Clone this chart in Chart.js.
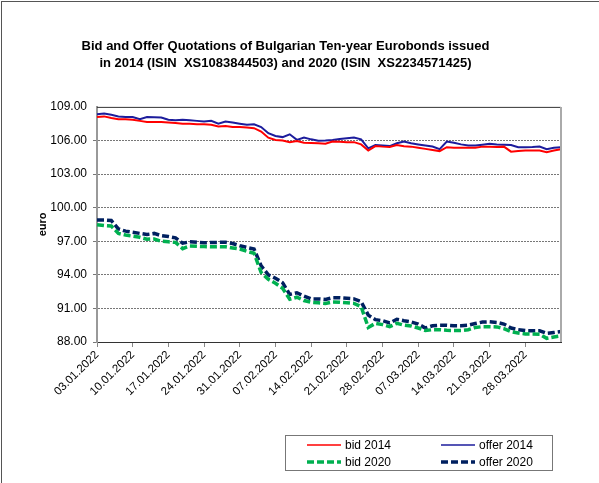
<!DOCTYPE html>
<html>
<head>
<meta charset="utf-8">
<script src="https://cdn.jsdelivr.net/npm/chart.js@4/dist/chart.umd.min.js"></script>
<style>
html, body { margin:0; padding:0; background:#fff; }
#wrap { position:relative; width:599px; height:483px; overflow:hidden; }
#frame { position:absolute; left:1px; top:1px; right:-2px; bottom:-2px; border-left:1px solid #555; border-top:1px solid #555; pointer-events:none; }
#legend { position:absolute; left:285px; top:435px; width:266px; height:34px; border:1px solid #777;
	display:grid; grid-template-columns:134px 132px; grid-template-rows:17px 17px;
	font:12px 'Liberation Sans', Arial, sans-serif; color:#000; }
#legend .it { display:flex; align-items:center; padding-left:21px; }
#legend svg { margin-right:4px; }
</style>
</head>
<body>
<div id="wrap">
	<canvas id="bondChart" width="599" height="483"></canvas>
	<div id="frame"></div>
	<div id="legend"></div>
</div>
<script>
var FONT = "'Liberation Sans', Arial, sans-serif"

var titleLines = [
	'Bid and Offer Quotations of Bulgarian Ten-year Eurobonds issued',
	'in 2014 (ISIN  XS1083844503) and 2020 (ISIN  XS2234571425)'
]

var days = [
	'03.01.2022','04.01.2022','05.01.2022','06.01.2022','07.01.2022',
	'10.01.2022','11.01.2022','12.01.2022','13.01.2022','14.01.2022',
	'17.01.2022','18.01.2022','19.01.2022','20.01.2022','21.01.2022',
	'24.01.2022','25.01.2022','26.01.2022','27.01.2022','28.01.2022',
	'31.01.2022','01.02.2022','02.02.2022','03.02.2022','04.02.2022',
	'07.02.2022','08.02.2022','09.02.2022','10.02.2022','11.02.2022',
	'14.02.2022','15.02.2022','16.02.2022','17.02.2022','18.02.2022',
	'21.02.2022','22.02.2022','23.02.2022','24.02.2022','25.02.2022',
	'28.02.2022','01.03.2022','02.03.2022','03.03.2022','04.03.2022',
	'07.03.2022','08.03.2022','09.03.2022','10.03.2022','11.03.2022',
	'14.03.2022','15.03.2022','16.03.2022','17.03.2022','18.03.2022',
	'21.03.2022','22.03.2022','23.03.2022','24.03.2022','25.03.2022',
	'28.03.2022','29.03.2022','30.03.2022','31.03.2022','01.04.2022',
	'04.04.2022'
]

// weekly labels shown under the axis (the last day gets none)
var labelEvery = 5
var lastLabelled = 60

var bid2014 = [
	108.10, 108.15, 108.00, 107.90, 107.90, 107.85, 107.75, 107.65, 107.65, 107.65,
	107.60, 107.55, 107.50, 107.50, 107.45, 107.45, 107.40, 107.25, 107.30, 107.20,
	107.20, 107.15, 107.10, 106.80, 106.25, 106.05, 106.00, 105.85, 105.95, 105.80,
	105.78, 105.75, 105.70, 105.90, 105.88, 105.85, 105.85, 105.65, 105.10, 105.50,
	105.45, 105.42, 105.60, 105.48, 105.45, 105.35, 105.25, 105.15, 105.05, 105.40,
	105.35, 105.35, 105.35, 105.35, 105.45, 105.45, 105.42, 105.45, 105.00, 105.05,
	105.10, 105.10, 105.10, 104.95, 105.10, 105.22
]

var offer2014 = [
	108.35, 108.40, 108.30, 108.15, 108.10, 108.10, 107.90, 108.10, 108.08, 108.05,
	107.85, 107.80, 107.85, 107.80, 107.75, 107.70, 107.75, 107.50, 107.70, 107.60,
	107.50, 107.40, 107.45, 107.20, 106.65, 106.40, 106.30, 106.55, 106.05, 106.26,
	106.10, 105.98, 106.00, 106.05, 106.14, 106.20, 106.26, 106.10, 105.30, 105.60,
	105.55, 105.50, 105.75, 105.90, 105.75, 105.65, 105.55, 105.46, 105.22, 105.90,
	105.80, 105.65, 105.55, 105.55, 105.62, 105.70, 105.65, 105.62, 105.60, 105.40,
	105.40, 105.42, 105.46, 105.22, 105.35, 105.40
]

var bid2020 = [
	98.48, 98.40, 98.36, 97.70, 97.55, 97.45, 97.35, 97.18, 97.20, 97.00,
	96.95, 96.90, 96.34, 96.58, 96.55, 96.52, 96.50, 96.52, 96.50, 96.40,
	96.30, 96.10, 95.93, 94.20, 93.60, 93.25, 92.80, 91.82, 92.00, 91.70,
	91.55, 91.50, 91.45, 91.57, 91.55, 91.50, 91.45, 91.16, 89.30, 89.67,
	89.55, 89.37, 89.67, 89.50, 89.43, 89.25, 89.02, 89.10, 89.10, 89.05,
	89.02, 89.02, 89.10, 89.30, 89.37, 89.37, 89.35, 89.20, 88.93, 88.80,
	88.72, 88.72, 88.70, 88.33, 88.45, 88.54
]

var offer2020 = [
	98.90, 98.90, 98.85, 98.10, 97.90, 97.80, 97.70, 97.60, 97.70, 97.50,
	97.42, 97.30, 96.82, 96.95, 96.90, 96.86, 96.88, 96.90, 96.90, 96.80,
	96.60, 96.45, 96.30, 94.80, 94.00, 93.70, 93.30, 92.25, 92.40, 92.10,
	91.85, 91.85, 91.80, 91.95, 91.95, 91.90, 91.85, 91.60, 90.40, 90.00,
	89.90, 89.70, 90.03, 89.90, 89.80, 89.60, 89.25, 89.45, 89.50, 89.50,
	89.45, 89.45, 89.50, 89.65, 89.78, 89.80, 89.75, 89.60, 89.25, 89.10,
	89.02, 89.00, 89.00, 88.78, 88.85, 88.93
]

var seriesNames = ['bid 2014', 'offer 2014', 'bid 2020', 'offer 2020']

// top and right edge of the plot area
var plotFrame = {
	id: 'plotFrame',
	afterDraw: function( chart ) {
		var a = chart.chartArea
		var c = chart.ctx
		c.save()
		c.lineWidth = 1
		c.strokeStyle = '#333'
		c.beginPath()
		c.moveTo(a.left, a.top + 0.5)
		c.lineTo(a.right, a.top + 0.5)
		c.stroke()
		c.lineWidth = 2
		c.strokeStyle = '#aaa'
		c.beginPath()
		c.moveTo(a.right, a.top)
		c.lineTo(a.right, a.bottom)
		c.stroke()
		c.restore()
	}
}

function makeChart() {
	var data = {
		type: 'line',
		data: {
			labels: days,
			datasets: [
				{
					label: seriesNames[0],
					data: bid2014,
					borderColor: '#ff0000',
					borderWidth: 2
				}, {
					label: seriesNames[1],
					data: offer2014,
					borderColor: '#1c1c9c',
					borderWidth: 2
				}, {
					label: seriesNames[2],
					data: bid2020,
					borderColor: '#00b050',
					borderWidth: 3.5,
					borderDash: [7, 3]
				}, {
					label: seriesNames[3],
					data: offer2020,
					borderColor: '#002060',
					borderWidth: 3.5,
					borderDash: [7, 3]
				}
			]
		},
		options: {
			responsive: false,
			animation: false,
			devicePixelRatio: 1,
			layout: { padding: { left: 10, right: 38, top: 0, bottom: 0 } },
			elements: {
				point: { radius: 0 },
				line: { tension: 0, fill: false }
			},
			plugins: {
				legend: { display: false },
				tooltip: { enabled: false },
				title: {
					display: true,
					text: titleLines,
					color: '#000',
					font: { family: FONT, size: 13, weight: 'bold', lineHeight: 1.38 },
					padding: { top: 37, bottom: 34 }
				}
			},
			scales: {
				x: {
					grid: { drawOnChartArea: false, color: '#888', tickLength: 5 },
					border: { color: '#333', width: 1 },
					ticks: {
						autoSkip: false,
						maxRotation: 45,
						minRotation: 45,
						padding: 1,
						color: '#000',
						font: { family: FONT, size: 11.5 },
						callback: function( v, i ) {
							return ( i % labelEvery == 0 && i <= lastLabelled ) ? this.getLabelForValue(v) : null
						}
					},
					afterFit: function( s ) { s.height = 141 }
				},
				y: {
					min: 88,
					max: 109,
					grid: {
						color: function( ctx ) { return ctx.tick && ctx.tick.value == 109 ? 'rgba(0,0,0,0)' : '#777' },
						tickLength: 4
					},
					border: { color: '#999', width: 2, dash: [2, 1] },
					ticks: {
						stepSize: 3,
						padding: 6,
						color: '#000',
						font: { family: FONT, size: 12 },
						callback: function( v ) { return v.toFixed(2) }
					},
					title: {
						display: true,
						text: 'euro',
						color: '#000',
						font: { family: FONT, size: 11, weight: 'bold' },
						padding: { top: 26, bottom: 0 }
					},
					afterFit: function( s ) { s.width = 87 }
				}
			}
		},
		plugins: [plotFrame]
	}
	var ctx = document.getElementById('bondChart')
	var myChart = new Chart( ctx, data )

	// legend, 2 x 2 like the original
	var lg = document.getElementById('legend')
	myChart.data.datasets.forEach(function( ds ) {
		var it = document.createElement('div')
		it.className = 'it'
		var dash = ds.borderDash ? ds.borderDash.join(',') : 'none'
		it.innerHTML = '<svg width="34" height="8"><line x1="0" y1="4" x2="34" y2="4" stroke="' + ds.borderColor +
			'" stroke-width="' + (ds.borderDash ? 3.5 : 1.5) + '" stroke-dasharray="' + dash + '"/></svg><span>' + ds.label + '</span>'
		lg.appendChild(it)
	})
}

makeChart()
</script>
</body>
</html>
